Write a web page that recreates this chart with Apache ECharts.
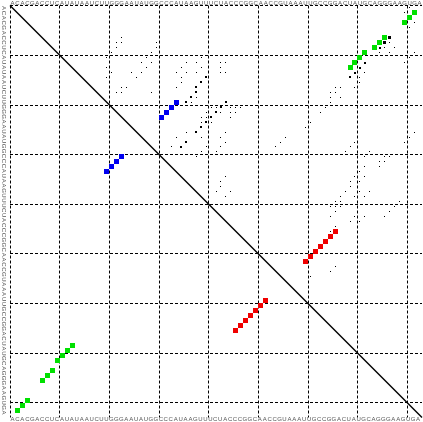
<!DOCTYPE html>
<html>
<head>
<meta charset="utf-8">
<script src="https://cdn.jsdelivr.net/npm/echarts@6/dist/echarts.min.js"></script>
<style>
  html, body { margin: 0; padding: 0; background: #fff; }
  #chart { width: 423px; height: 422px; }
</style>
</head>
<body>
<div id="chart"></div>
<script>
// sequence along both axes
const seq = 'ACACGACCUCAUAUAAUCUUGGGAAUAUGGCCCAUAAGUUUCUACCCGGCAACCGUAAAUUGCCGGACUAUGCAGGGAAGUGA'.split('');

// structure helices [i, j] (1-based), drawn in both triangles
const greenPairs = [[2, 82], [3, 81], [4, 80], [7, 76], [8, 75], [9, 74], [10, 72], [11, 71], [12, 70], [13, 69]];
const bluePairs = [[20, 34], [21, 33], [22, 32], [23, 31]];
const redPairs = [[46, 66], [47, 65], [48, 64], [49, 63], [50, 62], [51, 61], [52, 60]];

// pair probabilities [i, j, p], upper triangle only
const S = 0.04, M = 0.16, L = 0.36;
const probDots = [
  [7, 23, S], [8, 22, S], [8, 23, S], [9, 22, S], [8, 30, S], [9, 30, S], [10, 21, S], [10, 29, S],
  [11, 20, S], [11, 28, S], [12, 27, S], [12, 29, S], [13, 20, S], [13, 28, S], [14, 21, S], [14, 25, S],
  [14, 27, S], [15, 20, S], [15, 26, S], [17, 23, S], [17, 24, S], [18, 22, S], [18, 23, S], [18, 29, S],
  [11, 39, S], [12, 36, S], [12, 38, S], [13, 35, S], [13, 39, S], [14, 34, S], [14, 36, S], [14, 38, S],
  [15, 35, S], [15, 40, M], [16, 35, S], [16, 39, M], [17, 34, S], [17, 38, M], [18, 38, M], [19, 37, M],
  [19, 38, S], [20, 36, M], [20, 37, S],
  [12, 43, S], [12, 44, S], [13, 43, S], [14, 43, S], [14, 44, S],
  [20, 44, M], [21, 41, S], [21, 42, S], [21, 43, M], [21, 45, S], [21, 46, S], [21, 47, S],
  [22, 40, S], [22, 42, M], [22, 43, S], [22, 45, S], [22, 46, S],
  [23, 39, S], [23, 40, S], [23, 41, M], [23, 45, S],
  [24, 39, S], [24, 40, M], [24, 41, S],
  [25, 39, M], [26, 36, S], [26, 38, M], [26, 44, S],
  [27, 34, S], [27, 39, S], [27, 43, S], [28, 36, M], [28, 44, S],
  [29, 33, S], [29, 35, M], [29, 40, S], [29, 43, S],
  [30, 39, S], [30, 42, S], [31, 38, S],
  [35, 44, S], [36, 43, S], [37, 43, S], [38, 42, S], [38, 45, S], [39, 44, S],
  [1, 81, S], [2, 80, S], [4, 82, S], [5, 81, S],
  [7, 77, L], [8, 76, L], [8, 77, S], [9, 75, M], [9, 76, S], [9, 78, S], [10, 75, S], [10, 77, S],
  [10, 82, S], [11, 81, S], [12, 80, S],
  [12, 72, M], [13, 71, M], [14, 70, M], [15, 69, M], [14, 72, S], [15, 71, S], [16, 71, S], [17, 70, S],
  [17, 66, S], [17, 67, S], [18, 65, S], [18, 66, S], [19, 65, S], [19, 67, S], [20, 65, S], [21, 64, S],
  [22, 63, S], [24, 61, S], [25, 60, S],
  [26, 82, S], [27, 81, S], [28, 80, S],
  [27, 56, S], [28, 55, S], [29, 54, S],
  [28, 70, S], [29, 69, S], [30, 68, S], [30, 73, S],
  [31, 72, S], [31, 76, S], [31, 77, S], [32, 75, S], [32, 76, S], [33, 72, S], [33, 75, S], [34, 71, S],
  [35, 70, S], [35, 72, S], [36, 69, S], [36, 71, S], [37, 69, S], [38, 68, S], [38, 71, S], [38, 73, S],
  [39, 67, S], [39, 70, S], [39, 72, S], [40, 66, S], [40, 67, S], [40, 79, S], [41, 65, S], [41, 66, S],
  [41, 67, S], [41, 78, S], [42, 66, S], [42, 77, S], [43, 65, S], [43, 70, S], [43, 72, S], [43, 76, S],
  [44, 69, S], [44, 71, S], [45, 66, S], [46, 65, S],
  [53, 66, S], [54, 65, S], [55, 61, S]
];

const n = seq.length;

// x = column, y = row; cell centres sit at index - 0.5
function bothTriangles(pairs) {
  const out = [];
  pairs.forEach(function (p) {
    out.push([p[1] - 0.5, p[0] - 0.5, 1]);
    out.push([p[0] - 0.5, p[1] - 0.5, 1]);
  });
  return out;
}

function squares(color) {
  return function (params, api) {
    const c = api.coord([api.value(0), api.value(1)]);
    const cell = api.size([1, 1]);
    const w = Math.max(1, Math.round(cell[0] * Math.sqrt(api.value(2))));
    return {
      type: 'rect',
      shape: { x: Math.round(c[0] - w / 2), y: Math.round(c[1] - w / 2), width: w, height: w },
      style: { fill: color }
    };
  };
}

const box = { left: 10, top: 5.5, width: 412, height: 412 };
const gridLine = { show: true, showMinLine: true, showMaxLine: false, lineStyle: { color: '#000', width: 1, type: [3, 2] } };
const seqLabel = { interval: 0, fontSize: 6, color: '#555' };
const noAxis = { axisLine: { show: false }, axisTick: { show: false }, splitLine: { show: false } };

const chart = echarts.init(document.getElementById('chart'));
chart.setOption({
  animation: false,
  // grid 0 holds the marks, grid 1 (same box) the bottom / left sequence letters
  grid: [Object.assign({}, box), Object.assign({}, box)],
  xAxis: [
    Object.assign({}, noAxis, {
      gridIndex: 0, type: 'value', min: 0, max: n, interval: 10, position: 'top',
      axisLabel: { show: false }, splitLine: gridLine
    }),
    Object.assign({}, noAxis, {
      gridIndex: 1, type: 'category', data: seq, position: 'bottom', boundaryGap: true,
      axisLabel: Object.assign({ margin: 1 }, seqLabel)
    })
  ],
  yAxis: [
    Object.assign({}, noAxis, {
      gridIndex: 0, type: 'value', min: 0, max: n, interval: 10, inverse: true,
      axisLabel: { show: false }, splitLine: gridLine
    }),
    Object.assign({}, noAxis, {
      gridIndex: 1, type: 'category', data: seq, position: 'left', inverse: true, boundaryGap: true,
      axisLabel: Object.assign({ margin: 3, rotate: -90 }, seqLabel)
    })
  ],
  series: [
    {
      // sequence letters above the plot
      type: 'custom', xAxisIndex: 0, yAxisIndex: 0, clip: false, silent: true, z: 10,
      data: seq.map(function (ch, k) { return [k + 0.5, 0]; }),
      renderItem: function (params, api) {
        const c = api.coord([api.value(0), api.value(1)]);
        return {
          type: 'text', x: c[0], y: c[1] + 0.5,
          style: { text: seq[params.dataIndex], fill: '#555', fontSize: 6, align: 'center', verticalAlign: 'bottom' }
        };
      }
    },
    {
      type: 'line', xAxisIndex: 0, yAxisIndex: 0,
      data: [[0, 0], [n, n]], symbol: 'none', silent: true,
      lineStyle: { color: '#000', width: 1.4 }
    },
    {
      type: 'custom', xAxisIndex: 0, yAxisIndex: 0,
      data: probDots.map(function (d) { return [d[1] - 0.5, d[0] - 0.5, d[2]]; }),
      renderItem: squares('#000')
    },
    { type: 'custom', xAxisIndex: 0, yAxisIndex: 0, data: bothTriangles(greenPairs), renderItem: squares('#00e000') },
    { type: 'custom', xAxisIndex: 0, yAxisIndex: 0, data: bothTriangles(bluePairs), renderItem: squares('#0000f0') },
    { type: 'custom', xAxisIndex: 0, yAxisIndex: 0, data: bothTriangles(redPairs), renderItem: squares('#f00000') }
  ]
});
</script>
</body>
</html>
